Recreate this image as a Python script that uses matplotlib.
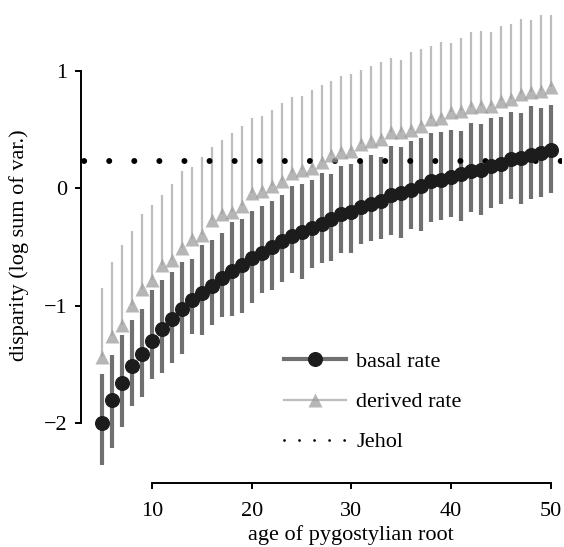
import numpy as np
import matplotlib
matplotlib.use("Agg")
import matplotlib.pyplot as plt
from matplotlib.lines import Line2D

plt.rcParams['font.family'] = ['Liberation Serif', 'DejaVu Serif']

# idade da raiz pigostiliana
idade = np.arange(5, 51)

# taxa basal (circulos pretos) e intervalos
basal = [-2.00, -1.80, -1.66, -1.51, -1.41, -1.30, -1.20, -1.11, -1.03, -0.95,
         -0.89, -0.83, -0.76, -0.70, -0.65, -0.59, -0.55, -0.50, -0.45, -0.41,
         -0.37, -0.34, -0.30, -0.26, -0.22, -0.20, -0.16, -0.13, -0.11, -0.06,
         -0.04, -0.01, 0.02, 0.06, 0.07, 0.10, 0.12, 0.15, 0.16, 0.19,
         0.21, 0.25, 0.26, 0.28, 0.30, 0.33]
basal_sup = [-1.58, -1.42, -1.25, -1.12, -1.03, -0.87, -0.78, -0.71, -0.63, -0.60,
             -0.48, -0.44, -0.38, -0.29, -0.26, -0.19, -0.15, -0.11, -0.06, 0.02,
             0.04, 0.07, 0.13, 0.12, 0.19, 0.21, 0.23, 0.28, 0.27, 0.36,
             0.35, 0.40, 0.43, 0.47, 0.48, 0.50, 0.49, 0.56, 0.55, 0.60,
             0.61, 0.65, 0.64, 0.70, 0.68, 0.71]
basal_inf = [-2.36, -2.21, -2.03, -1.85, -1.78, -1.62, -1.57, -1.49, -1.41, -1.24,
             -1.25, -1.16, -1.10, -1.09, -1.06, -0.98, -0.89, -0.87, -0.80, -0.72,
             -0.77, -0.68, -0.64, -0.62, -0.55, -0.55, -0.47, -0.45, -0.43, -0.40,
             -0.42, -0.35, -0.36, -0.29, -0.27, -0.24, -0.28, -0.20, -0.23, -0.17,
             -0.13, -0.09, -0.13, -0.09, -0.07, -0.04]

# taxa derivada (triangulos cinza) e limite superior
derivada = [-1.44, -1.26, -1.16, -0.99, -0.86, -0.78, -0.65, -0.61, -0.51, -0.43,
            -0.40, -0.27, -0.22, -0.20, -0.15, -0.04, -0.02, 0.02, 0.06, 0.13,
            0.16, 0.17, 0.22, 0.28, 0.31, 0.32, 0.38, 0.40, 0.42, 0.48,
            0.48, 0.50, 0.53, 0.59, 0.60, 0.65, 0.66, 0.69, 0.70, 0.70,
            0.74, 0.76, 0.80, 0.82, 0.83, 0.86]
derivada_sup = [-0.85, -0.63, -0.48, -0.36, -0.22, -0.14, -0.06, 0.04, 0.15, 0.18,
                0.27, 0.35, 0.41, 0.47, 0.53, 0.60, 0.62, 0.67, 0.73, 0.78,
                0.79, 0.84, 0.88, 0.91, 0.96, 0.97, 1.01, 1.04, 1.08, 1.11,
                1.09, 1.16, 1.19, 1.21, 1.25, 1.24, 1.28, 1.33, 1.34, 1.33,
                1.38, 1.40, 1.44, 1.43, 1.48, 1.48]

jehol = 0.23

x_ticks = [10, 20, 30, 40, 50]
y_ticks = [-2, -1, 0, 1]

cinza_escuro = '#707070'
cinza_claro = '#bdbdbd'
tri_cor = (0.62, 0.62, 0.62, 0.75)

fig = plt.figure(figsize=(5.64, 5.47), dpi=100)
ax = fig.add_axes([81 / 564, 1 - 483 / 547, 481 / 564, 475 / 547])

ax.vlines(idade, derivada, derivada_sup, color=cinza_claro, lw=1.6, zorder=1)
ax.vlines(idade, basal_inf, basal_sup, color=cinza_escuro, lw=3, zorder=2)
ax.axhline(jehol, color='black', lw=4.3, linestyle=(3.68, (0.01, 4.19)),
           dash_capstyle='round', zorder=3)
ax.plot(idade, derivada, linestyle='none', marker='^', ms=10,
        mfc=tri_cor, mec='none', zorder=4)
ax.plot(idade, basal, linestyle='none', marker='o', ms=9.8,
        mfc='#1c1c1c', mec='#1c1c1c', zorder=5)

ax.set_xlim(2.88, 51.12)
ax.set_ylim(-2.51, 1.536)

for lado in ['top', 'right']:
    ax.spines[lado].set_visible(False)
ax.spines['left'].set_bounds(-2, 1)
ax.spines['bottom'].set_bounds(10, 50)
for lado in ['left', 'bottom']:
    ax.spines[lado].set_linewidth(1.4)

ax.set_xticks(x_ticks)
ax.set_yticks(y_ticks)
ax.tick_params(axis='both', width=1.4, length=4, labelsize=16)
ax.tick_params(axis='x', pad=10)
ax.tick_params(axis='y', pad=6)

ax.set_xlabel("age of pygostylian root", fontsize=16)
ax.set_ylabel("disparity (log sum of var.)", fontsize=16)
ax.xaxis.set_label_coords(0.561, -0.088)
ax.yaxis.set_label_coords(-0.108, 0.5)

h_basal = Line2D([], [], color=cinza_escuro, lw=3, marker='o', ms=9.8,
                 mfc='#1c1c1c', mec='#1c1c1c')
h_deriv = Line2D([], [], color=cinza_claro, lw=1.6, marker='^', ms=10,
                 mfc=tri_cor, mec='none')
h_jehol = Line2D([], [], color='black', lw=2, linestyle=(0, (0.01, 5.4)),
                 dash_capstyle='round')
fig.legend([h_basal, h_deriv, h_jehol], ["basal rate", "derived rate", "Jehol"],
           loc='center left', bbox_to_anchor=(284 / 564, 1 - 402 / 547),
           frameon=False, fontsize=16, handlelength=2.8, handletextpad=0.45,
           labelspacing=0.88, borderpad=0, borderaxespad=0, numpoints=1)

fig.savefig("out.png", dpi=100)
